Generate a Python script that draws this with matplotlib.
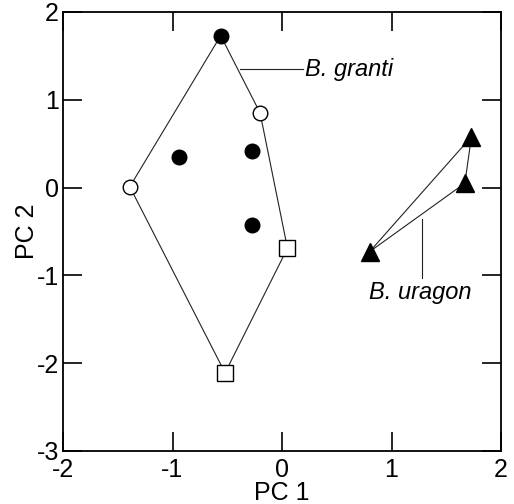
import matplotlib.pyplot as plt

plt.rcParams['font.family'] = ['Liberation Sans', 'DejaVu Sans']
plt.rcParams['axes.unicode_minus'] = False

# B. granti points
filled_x = [-0.56, -0.94, -0.27, -0.27]
filled_y = [1.73, 0.35, 0.42, -0.43]
open_circ_x = [-0.20, -1.39]
open_circ_y = [0.85, 0.01]
square_x = [0.05, -0.52]
square_y = [-0.69, -2.11]

# B. uragon points
tri_x = [0.80, 1.73, 1.67]
tri_y = [-0.73, 0.58, 0.05]

# hull order for B. granti
hull_x = [-0.56, -0.20, 0.05, -0.52, -1.39, -0.56]
hull_y = [1.73, 0.85, -0.69, -2.11, 0.01, 1.73]

fig = plt.figure(figsize=(5.14, 5.04), dpi=100)
ax = fig.add_axes([63/514, 1 - 451/504, 438/514, 439/504])

ax.plot(hull_x, hull_y, color='#222222', lw=0.8, zorder=1)
ax.plot(tri_x + tri_x[:1], tri_y + tri_y[:1], color='#222222', lw=0.8, zorder=1)

ax.plot(filled_x, filled_y, 'o', ms=10.5, mfc='black', mec='black', zorder=3)
ax.plot(open_circ_x, open_circ_y, 'o', ms=10.5, mfc='white', mec='black', mew=1.0, zorder=3)
ax.plot(square_x, square_y, 's', ms=11, mfc='white', mec='black', mew=1.0, zorder=3)
ax.plot(tri_x, tri_y, '^', ms=13, mfc='black', mec='black', zorder=3)

# labels with leader lines
ax.plot([-0.38, 0.19], [1.35, 1.35], color='#222222', lw=0.8)
ax.text(0.21, 1.35, 'B. granti', style='italic', fontsize=17, va='center', ha='left')
ax.plot([1.28, 1.28], [-0.36, -1.03], color='#222222', lw=0.8)
ax.text(1.26, -1.19, 'B. uragon', style='italic', fontsize=17, va='center', ha='center')

ax.set_xlim(-2, 2)
ax.set_ylim(-3, 2)
ax.set_xticks([-2, -1, 0, 1, 2])
ax.set_yticks([-3, -2, -1, 0, 1, 2])
ax.tick_params(direction='in', length=14, width=1.2, top=True, right=True,
               labelsize=18, pad=3)
ax.tick_params(axis='x', pad=5)
for s in ax.spines.values():
    s.set_linewidth(1.3)

ax.set_xlabel('PC 1', fontsize=18, labelpad=-1)
ax.set_ylabel('PC 2', fontsize=18, labelpad=-2)

fig.savefig('out.png', dpi=100)
